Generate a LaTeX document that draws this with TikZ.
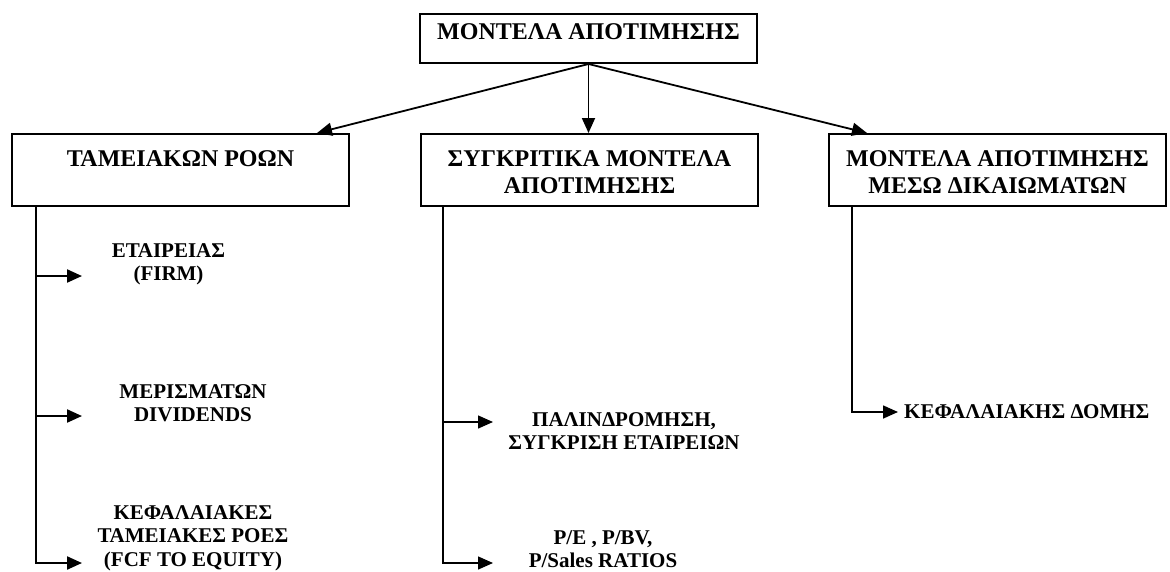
\documentclass[tikz,border=0pt]{standalone}
\usepackage{fontspec}
\setmainfont{Liberation Serif}
\usetikzlibrary{arrows.meta}
\newcommand\mlines[1]{\begin{tabular}[t]{@{}c@{}}#1\end{tabular}}
\begin{document}
\begin{tikzpicture}[x=1pt,y=-1pt,
  box/.style={draw, line width=2pt, inner sep=0pt, anchor=north west,
    font=\bfseries\fontsize{24}{27.6}\selectfont},
  sub/.style={inner sep=0pt, anchor=base, font=\bfseries\fontsize{21}{23.5}\selectfont},
  tip/.style={-{Triangle[length=15pt,width=13pt]}},
  toparrow/.style={tip, line width=1.8pt},
  lconn/.style={tip, line width=2.2pt},
  mconn/.style={tip, line width=1.4pt},
  rconn/.style={tip, line width=1.6pt}]
\useasboundingbox (0,0) rectangle (1170,571);

% boxes
\node[box] (T) at (419,13) {\parbox[c][49pt][t]{337pt}{\centering\rule{0pt}{25pt}ΜΟΝΤΕΛΑ ΑΠΟΤΙΜΗΣΗΣ}};
\node[box] (L) at (11,133) {\parbox[c][72pt][t]{337pt}{\centering\rule{0pt}{32pt}ΤΑΜΕΙΑΚΩΝ ΡΟΩΝ}};
\node[box] (M) at (420,133) {\parbox[c][72pt][t]{337pt}{\centering\rule{0pt}{32pt}ΣΥΓΚΡΙΤΙΚΑ ΜΟΝΤΕΛΑ\\ΑΠΟΤΙΜΗΣΗΣ}};
\node[box] (R) at (828,133) {\parbox[c][72pt][t]{337pt}{\centering\rule{0pt}{32pt}ΜΟΝΤΕΛΑ ΑΠΟΤΙΜΗΣΗΣ\\ΜΕΣΩ ΔΙΚΑΙΩΜΑΤΩΝ}};

% top arrows
\draw[toparrow] (T.south) -- ([xshift=-33pt]L.north east);
\draw[toparrow] (T.south) -- (T.south |- M.north);
\draw[toparrow] (T.south) -- ([xshift=39pt]R.north west);

% sub texts
\node[sub] (firm) at (168.5,257) {\mlines{ΕΤΑΙΡΕΙΑΣ\\(FIRM)}};
\node[sub] (div) at (193,398) {\mlines{ΜΕΡΙΣΜΑΤΩΝ\\DIVIDENDS}};
\node[sub] (fcf) at (193,519) {\mlines{ΚΕΦΑΛΑΙΑΚΕΣ\\ΤΑΜΕΙΑΚΕΣ ΡΟΕΣ\\(FCF TO EQUITY)}};
\node[sub] (reg) at (624,426) {\mlines{ΠΑΛΙΝΔΡΟΜΗΣΗ,\\ΣΥΓΚΡΙΣΗ ΕΤΑΙΡΕΙΩΝ}};
\node[sub] (rat) at (603,544) {\mlines{P/E , P/BV,\\P/Sales RATIOS}};
\node[sub, anchor=base west] (cap) at (904,418) {ΚΕΦΑΛΑΙΑΚΗΣ ΔΟΜΗΣ};

% branch coordinates
\coordinate (Lx) at ([xshift=25pt]L.south west);
\coordinate (Mx) at ([xshift=23pt]M.south west);
\coordinate (Rx) at ([xshift=24pt]R.south west);
\coordinate (l1) at (82,276);
\coordinate (l2) at (82,416);
\coordinate (l3) at (82,563);
\coordinate (m1) at (493,422);
\coordinate (m2) at (493,563);
\coordinate (r1) at (898,412);

% left column
\draw[lconn] (Lx) |- (l3);
\draw[lconn] (l1 -| Lx) -- (l1);
\draw[lconn] (l2 -| Lx) -- (l2);
% middle column
\draw[mconn] (Mx) |- (m2);
\draw[mconn] (m1 -| Mx) -- (m1);
% right column
\draw[rconn] (Rx) |- (r1);
\end{tikzpicture}
\end{document}
